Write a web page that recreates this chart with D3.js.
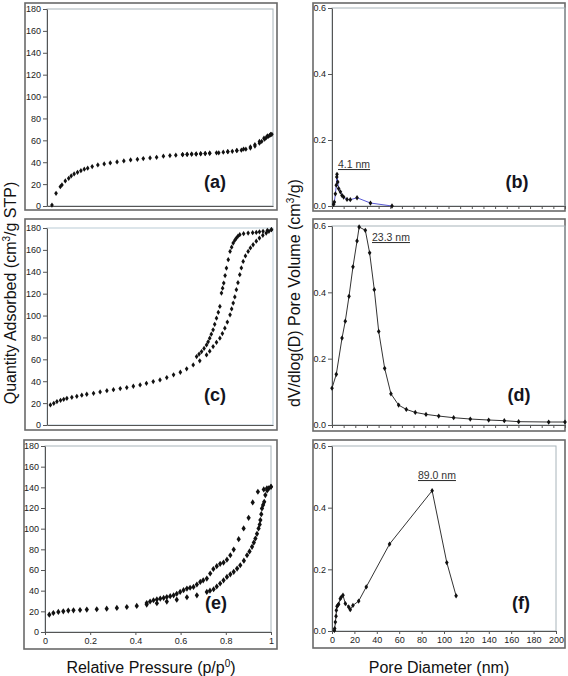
<!DOCTYPE html>
<html><head><meta charset="utf-8">
<script src="https://cdn.jsdelivr.net/npm/d3@7"></script>
<style>
body{margin:0;background:#fff}
svg{display:block}
text{font-family:"Liberation Sans",Arial,sans-serif}
</style>
</head><body>
<svg id="chart" width="568" height="676"></svg>
<script>
// ---------------- DATA ----------------
const isoTicks = [0,20,40,60,80,100,120,140,160,180];
const psdTicks = [0,0.2,0.4,0.6];
const pressureTicks = [0,0.2,0.4,0.6,0.8,1];
const diameterTicks = [0,20,40,60,80,100,120,140,160,180,200];
const diameterMinorTicks = [0,10,20,30,40,50,60,70,80,90,100,110,120,130,140,150,160,170,180,190,200];

// (a) isotherm
const aAdsP = [0.022,0.04,0.059,0.066,0.081,0.096,0.107,0.12,0.135,0.15,0.165,0.18,0.2,0.225,0.253,0.28,0.31,0.34,0.37,0.4,0.426,0.456,0.485,0.515,0.544,0.57,0.6,0.62,0.64,0.66,0.68,0.7,0.72,0.75,0.78,0.8,0.82,0.84,0.86,0.88,0.9,0.92,0.94,0.95,0.963,0.97,0.978,0.985,0.99,0.995];
const aAdsQ = [0.9,11.6,17.7,19.2,22.9,25.3,27.5,29.3,30.8,32.3,33.6,34.5,36,37.5,38.4,39.4,40.3,41.2,42.1,42.7,43.3,43.9,44.5,45.5,46.1,46.4,47,47.2,47.4,47.6,47.8,48,48.3,48.6,49.2,49.6,50,50.5,51,51.9,53,54.8,57.4,59,61,62.5,63.5,64.5,65,65.5];
const aDesP = [0.99,0.975,0.96,0.94,0.92,0.9,0.87,0.84,0.8,0.76,0.72,0.7,0.68,0.66,0.64,0.62,0.6];
const aDesQ = [65.5,64,62,59,56,54,52,50.8,49.6,48.6,48.2,47.9,47.7,47.5,47.3,47.1,46.9];

// (c) isotherm
const cAdsP = [0.015,0.03,0.044,0.06,0.074,0.088,0.11,0.132,0.154,0.176,0.206,0.235,0.265,0.294,0.324,0.353,0.382,0.412,0.44,0.47,0.5,0.53,0.56,0.59,0.618,0.647,0.676,0.706,0.72,0.735,0.75,0.765,0.776,0.787,0.798,0.81,0.817,0.824,0.831,0.838,0.845,0.853,0.86,0.868,0.878,0.89,0.9,0.912,0.926,0.94,0.955,0.97,0.982,0.993];
const cAdsQ = [18.3,19.8,21.4,22.6,23.5,24.4,25.3,26.2,27.2,28.1,29,30.2,31.4,32.3,33.3,34.2,35.4,36.6,38.1,39.7,41.2,43.3,45.8,48.2,51.3,54.9,58.6,64,67.5,71.7,75.5,79.3,83.5,88.5,94,100.7,106,111.4,117,123.6,130,137.3,143.5,149.5,154.5,158.6,161.8,164.7,168,170.8,173.3,175.4,177,178.5];
const cDesP = [0.993,0.975,0.956,0.94,0.926,0.91,0.89,0.87,0.853,0.845,0.838,0.831,0.824,0.817,0.81,0.802,0.794,0.788,0.782,0.777,0.772,0.765,0.758,0.75,0.742,0.735,0.727,0.72,0.713,0.706,0.695,0.684,0.673,0.662];
const cDesQ = [178.5,177.8,177,176.5,176,175.7,175.4,174.8,173.9,172.5,170.8,168.8,166.3,162.5,158.6,151,143.4,136.5,129.7,125,120.5,108.3,103,97.6,92,87,83,79.3,76,73.2,70,67.1,64.8,62.5];

// (e) isotherm
const eAdsP = [0.019,0.037,0.059,0.081,0.103,0.126,0.155,0.185,0.229,0.273,0.318,0.362,0.406,0.45,0.495,0.539,0.583,0.628,0.672,0.716,0.73,0.746,0.76,0.775,0.79,0.805,0.82,0.835,0.85,0.864,0.88,0.894,0.905,0.916,0.924,0.931,0.938,0.945,0.95,0.953,0.957,0.96,0.965,0.97,0.975,0.983,0.99,1.0];
const eAdsQ = [16.8,18.4,19.4,20,20.7,21,21.3,21.7,22,22.6,23.3,24.2,25.2,26.5,27.8,29.4,31.3,33.6,35.5,38.8,40,41.4,44,46.9,50,53.3,55.8,58.2,61.4,64.6,69,74.3,78,82.4,86.5,90.5,95,100.2,104,108.3,114,119.6,123,126,132.5,137,139,140.6];
const eDesP = [1.0,0.982,0.968,0.942,0.919,0.901,0.879,0.857,0.835,0.82,0.805,0.79,0.775,0.76,0.745,0.731,0.716,0.7,0.687,0.672,0.657,0.642,0.628,0.613,0.598,0.583,0.569,0.554,0.539,0.525,0.51,0.495,0.48,0.465,0.45];
const eDesQ = [140.6,139,138,135.7,125.4,110.5,100.2,89.8,79.8,74.3,70,67.2,66,63.7,61,56.6,51.7,50,48.5,46,43.6,42.8,42,40.5,38.8,37,35.5,34.7,33.9,33,32.3,31.5,30.7,29.5,28.1];

// (b) pore size distribution
const bD = [1.4,2.0,2.9,3.7,4.1,4.3,4.9,5.7,7.2,8.6,10,12.9,15.7,21.5,33,51.5];
const bV = [0.005,0.012,0.037,0.063,0.088,0.096,0.073,0.053,0.043,0.032,0.027,0.02,0.019,0.025,0.009,0.0];

// (d) pore size distribution
const dD = [0,3.7,8.6,11.4,14.6,18,21.5,23.3,28.6,32.3,36.3,40.1,45.2,50.6,57.2,63.8,71.5,80.7,91.6,104.4,118.7,134.5,147.9,160.2,186,200];
const dV = [0.111,0.153,0.262,0.313,0.388,0.477,0.555,0.597,0.587,0.519,0.408,0.282,0.171,0.094,0.06,0.047,0.038,0.032,0.027,0.022,0.018,0.015,0.013,0.01,0.009,0.009];

// (f) pore size distribution
const fD = [2.1,2.4,3,3.6,3.9,4.5,5.1,5.9,7.4,8.3,9.8,11.9,14.9,16.3,18.7,23.8,30.6,51.4,89.4,102.5,110.8];
const fV = [0.002,0.008,0.029,0.048,0.067,0.08,0.083,0.087,0.105,0.11,0.116,0.089,0.078,0.069,0.083,0.097,0.143,0.282,0.455,0.222,0.114];

const panelLabels = ["(a)","(b)","(c)","(d)","(e)","(f)"];
const peakLabels = ["4.1 nm","23.3 nm","89.0 nm"];

// ---------------- DRAW ----------------
const svg = d3.select("#chart");
const zip = (xs, ys) => xs.map((v,i)=>[v, ys[i]]);

function panel(o){
  const g = svg.append("g");
  const [fx0,fy0,fx1,fy1] = o.frame;
  const [px0,py0,px1,py1] = o.plot;
  const x = d3.scaleLinear().domain(o.xd).range([px0,px1]);
  const y = d3.scaleLinear().domain(o.yd).range([py1,py0]);

  g.append("rect").attr("x",fx0).attr("y",fy0).attr("width",fx1-fx0).attr("height",fy1-fy0)
    .attr("fill","#fff").attr("stroke","#6a6a6a").attr("stroke-width",1.6);
  g.append("rect").attr("x",px0).attr("y",py0).attr("width",px1-px0).attr("height",py1-py0)
    .attr("fill","none").attr("stroke",o.plotStroke||"#a8b4ba").attr("stroke-width",1);

  const ya = g.append("g").attr("transform",`translate(${px0},0)`)
    .call(d3.axisLeft(y).tickValues(o.yTicks).tickSize(4).tickSizeOuter(0).tickPadding(2).tickFormat(o.yFmt));
  ya.select(".domain").attr("stroke","#555");
  ya.selectAll(".tick line").attr("stroke","#555");
  ya.selectAll("text").attr("font-size",9).attr("fill","#222").attr("font-family","Liberation Sans, Arial, sans-serif");

  const xa = g.append("g").attr("transform",`translate(0,${py1})`);
  if (o.xTicks){
    xa.call(d3.axisBottom(x).tickValues(o.xTicks).tickSize(3).tickSizeOuter(0).tickPadding(3)
      .tickFormat(o.xFmt || (()=>"")));
  } else {
    xa.call(d3.axisBottom(x).tickValues([]).tickSizeOuter(0));
  }
  xa.select(".domain").attr("stroke","#555");
  xa.selectAll(".tick line").attr("stroke","#555");
  xa.selectAll("text").attr("font-size",9).attr("fill","#222").attr("font-family","Liberation Sans, Arial, sans-serif");

  const sym = d3.symbol().type(d3.symbolDiamond).size(o.msize||8);
  (o.series||[]).forEach(s=>{
    const pts = zip(s.x, s.y);
    if (s.line){
      g.append("path").datum(pts)
        .attr("d", d3.line().x(d=>x(d[0])).y(d=>y(d[1])))
        .attr("fill","none").attr("stroke",s.line).attr("stroke-width",1);
    }
    g.selectAll(null).data(pts).enter().append("path")
      .attr("d", sym).attr("transform", d=>`translate(${x(d[0])},${y(d[1])}) scale(1.2,1)`)
      .attr("fill","#111");
  });

  g.append("text").attr("x",o.lab[0]).attr("y",o.lab[1]).attr("text-anchor","middle")
    .attr("font-size",18).attr("font-weight","bold").attr("fill","#141420").text(o.label);

  if (o.peak){
    g.append("text").attr("x",o.peak[0]).attr("y",o.peak[1]).attr("font-size",10.5)
      .attr("fill","#333").attr("text-decoration","underline").text(o.peak[2]);
  }
  return {x,y};
}

const fmtInt = d3.format("d");
const fmt1 = d3.format(".1f");
const fmtP = d => (d===0||d===1) ? String(d) : d.toFixed(1);

panel({frame:[25,3,277,210], plot:[47,9,273,206], xd:[0,1], yd:[0,180], yTicks:isoTicks, yFmt:fmtInt,
  series:[{x:aAdsP,y:aAdsQ},{x:aDesP,y:aDesQ}], label:panelLabels[0], lab:[215,188]});
panel({frame:[25,219,277,430], plot:[47,228,273,425], xd:[0,1], yd:[0,180], yTicks:isoTicks, yFmt:fmtInt,
  plotStroke:"#b9cbd6",
  series:[{x:cAdsP,y:cAdsQ},{x:cDesP,y:cDesQ}], label:panelLabels[2], lab:[215,401]});
panel({frame:[24,440,277,649], plot:[45,446,271,632], xd:[0,1], yd:[0,180], yTicks:isoTicks, yFmt:fmtInt,
  xTicks:pressureTicks, xFmt:fmtP, msize:11,
  series:[{x:eAdsP,y:eAdsQ},{x:eDesP,y:eDesQ}], label:panelLabels[4], lab:[216,609]});

panel({frame:[313,3,565,211], plot:[332,8,565,206], xd:[0,200], yd:[0,0.6], yTicks:psdTicks, yFmt:fmt1,
  xTicks:diameterMinorTicks,
  series:[{x:bD,y:bV,line:"#5a5ad6"}], label:panelLabels[1], lab:[517,188], peak:[338,168,peakLabels[0]]});
panel({frame:[313,219,565,431], plot:[332,226,565,425], xd:[0,200], yd:[0,0.6], yTicks:psdTicks, yFmt:fmt1,
  xTicks:diameterMinorTicks,
  series:[{x:dD,y:dV,line:"#333"}], label:panelLabels[3], lab:[519,401], peak:[372,241,peakLabels[1]]});
panel({frame:[313,440,565,648], plot:[332,446,556,631], xd:[0,200], yd:[0,0.6], yTicks:psdTicks, yFmt:fmt1,
  xTicks:diameterTicks, xFmt:fmtInt,
  series:[{x:fD,y:fV,line:"#333"}], label:panelLabels[5], lab:[521,609], peak:[418,479,peakLabels[2]]});

// axis titles
const yt1 = svg.append("text").attr("transform","translate(16,293) rotate(-90)").attr("text-anchor","middle")
  .attr("font-size",16).attr("fill","#111");
yt1.append("tspan").text("Quantity Adsorbed (cm");
yt1.append("tspan").attr("dy",-6).attr("font-size",10).text("3");
yt1.append("tspan").attr("dy",6).text("/g STP)");

const yt2 = svg.append("text").attr("transform","translate(300,293) rotate(-90)").attr("text-anchor","middle")
  .attr("font-size",16).attr("fill","#111");
yt2.append("tspan").text("dV/dlog(D) Pore Volume (cm");
yt2.append("tspan").attr("dy",-6).attr("font-size",10).text("3");
yt2.append("tspan").attr("dy",6).text("/g)");

const xt1 = svg.append("text").attr("x",151).attr("y",673).attr("text-anchor","middle")
  .attr("font-size",16).attr("fill","#111");
xt1.append("tspan").text("Relative Pressure (p/p");
xt1.append("tspan").attr("dy",-6).attr("font-size",10).text("0");
xt1.append("tspan").attr("dy",6).text(")");

svg.append("text").attr("x",439).attr("y",673).attr("text-anchor","middle")
  .attr("font-size",16).attr("fill","#111").text("Pore Diameter (nm)");
</script>
</body></html>
